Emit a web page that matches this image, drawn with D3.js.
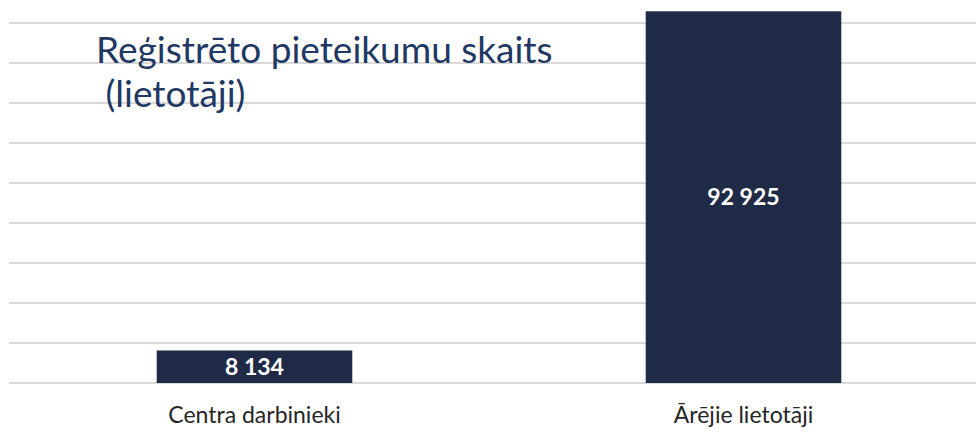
<!DOCTYPE html>
<html>
<head>
<meta charset="utf-8">
<script src="https://cdn.jsdelivr.net/npm/d3@7"></script>
<style>
  body { margin: 0; background: #fff; }
  svg { display: block; }
  text { font-family: Lato, "Open Sans", sans-serif; }
</style>
</head>
<body>
<div id="chart"></div>
<script>
const categories = ["Centra darbinieki", "Ārējie lietotāji"];
const values = [8134, 92925];
const yTicks = [0, 10000, 20000, 30000, 40000, 50000, 60000, 70000, 80000, 90000];
const titleLines = ["Reģistrēto pieteikumu skaits", " (lietotāji)"];

const width = 976, height = 432;

const svg = d3.select("#chart")
  .append("svg")
  .attr("width", width)
  .attr("height", height);

const x = d3.scaleBand()
  .domain(categories)
  .range([10, 988])
  .paddingInner(0.6)
  .paddingOuter(0.3);

const y = d3.scaleLinear()
  .domain([0, 100000])
  .range([383, -17]);

// gridlines
svg.append("g")
  .selectAll("line")
  .data(yTicks)
  .enter()
  .append("line")
  .attr("x1", 9)
  .attr("x2", width)
  .attr("y1", d => y(d))
  .attr("y2", d => y(d))
  .attr("stroke", "#d9d9d9")
  .attr("stroke-width", 2);

// title
svg.append("text")
  .attr("x", 96)
  .attr("y", 63)
  .attr("fill", "#1f3864")
  .style("font-size", "37px")
  .style("white-space", "pre")
  .selectAll("tspan")
  .data(titleLines)
  .enter()
  .append("tspan")
  .attr("x", 96)
  .attr("dy", (d, i) => i === 0 ? 0 : 44)
  .text(d => d);

// bars
svg.append("g")
  .selectAll("rect")
  .data(values)
  .enter()
  .append("rect")
  .attr("x", (d, i) => x(categories[i]))
  .attr("y", d => y(d))
  .attr("width", x.bandwidth())
  .attr("height", d => y(0) - y(d))
  .attr("fill", "#1f2b46");

// value labels
const fmt = d => d3.format(",")(d).replace(/,/g, " ");
svg.append("g")
  .selectAll("text")
  .data(values)
  .enter()
  .append("text")
  .attr("x", (d, i) => x(categories[i]) + x.bandwidth() / 2)
  .attr("y", d => (y(d) + y(0)) / 2)
  .attr("dy", "0.36em")
  .attr("text-anchor", "middle")
  .attr("fill", "#ffffff")
  .style("font-size", "23px")
  .style("font-weight", "bold")
  .text(d => fmt(d));

// category labels
svg.append("g")
  .selectAll("text")
  .data(categories)
  .enter()
  .append("text")
  .attr("x", d => x(d) + x.bandwidth() / 2)
  .attr("y", 423)
  .attr("text-anchor", "middle")
  .attr("fill", "#262626")
  .style("font-size", "23px")
  .text(d => d);
</script>
</body>
</html>
